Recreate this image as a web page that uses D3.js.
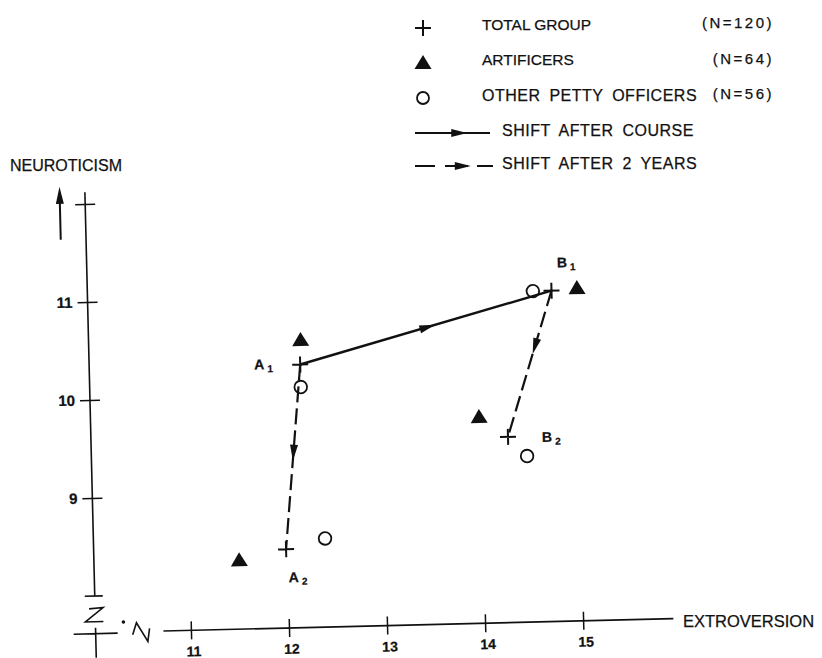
<!DOCTYPE html>
<html>
<head>
<meta charset="utf-8">
<script src="https://cdn.jsdelivr.net/npm/d3@7/dist/d3.min.js"></script>
<style>
  body { margin: 0; background: #fff; }
  svg { display: block; font-family: "Liberation Sans", Arial, sans-serif; }
  text { fill: #111; stroke: #111; stroke-width: 0.25px; }
</style>
</head>
<body>
<script>
// tick values
var xTicks = [11, 12, 13, 14, 15];
var yTicks = [9, 10, 11, 12];
var yTickLabels = ['9', '10', '11', ''];

// legend
var groupNames = ['TOTAL GROUP', 'ARTIFICERS', 'OTHER PETTY OFFICERS'];
var groupN = [120, 64, 56];
var shiftNames = ['SHIFT AFTER COURSE', 'SHIFT AFTER 2 YEARS'];

// points A1, B1, A2, B2 (extroversion, neuroticism)
var pointNames = ['A1', 'B1', 'A2', 'B2'];
var totalX = [12.18, 14.76, 11.99, 14.28];
var totalY = [10.31, 11.00, 8.43, 9.52];
var artificersX = [12.19, 15.02, 13.99, 11.51];
var artificersY = [10.56, 11.02, 9.73, 8.33];
var otherX = [12.18, 14.57, 14.47, 12.39];
var otherY = [10.08, 11.00, 9.32, 8.53];

// shifts of the total group (index pairs into pointNames)
var shiftCourse = [[0, 1]];
var shiftTwoYears = [[0, 2], [1, 3]];

var width = 822, height = 658;
var ink = '#111';

var svg = d3.select('body').append('svg')
    .attr('width', width)
    .attr('height', height);

svg.append('rect').attr('width', width).attr('height', height).attr('fill', '#fff');

// the scanned figure sits slightly askew
var plot = svg.append('g').attr('transform', 'rotate(-1.4 384 410)');

var x = d3.scaleLinear().domain([11, 15]).range([185.6, 577.9]);
var y = d3.scaleLinear().domain([9, 11]).range([490.9, 294.8]);
var xAxisY = 625.6, yAxisX = 90.3;

// x axis
var xAxis = plot.append('g')
    .attr('transform', 'translate(0,' + xAxisY + ')')
    .call(d3.axisBottom(x).tickValues(xTicks).tickSize(9).tickFormat(d3.format('d')));
xAxis.select('.domain').remove();
xAxis.selectAll('.tick line').attr('y1', -9).attr('y2', 9)
    .attr('stroke', ink).attr('stroke-width', 1.5);
xAxis.selectAll('.tick text').attr('y', 16).attr('x', 2)
    .style('font-size', '14px').style('font-weight', 'bold').attr('fill', ink);
xAxis.append('line')
    .attr('x1', x(10.72)).attr('x2', x(15.92))
    .attr('stroke', ink).attr('stroke-width', 1.6);

// y axis
var yAxis = plot.append('g')
    .attr('transform', 'translate(' + yAxisX + ',0)')
    .call(d3.axisLeft(y).tickValues(yTicks).tickSize(10)
      .tickFormat(function (d, i) { return yTickLabels[i]; }));
yAxis.select('.domain').remove();
yAxis.selectAll('.tick line').attr('x1', -10).attr('x2', 10)
    .attr('stroke', ink).attr('stroke-width', 1.5);
yAxis.selectAll('.tick text').attr('x', -15)
    .style('font-size', '15px').style('font-weight', 'bold').attr('fill', ink);
yAxis.append('line')
    .attr('y1', y(12.12)).attr('y2', y(8.0))
    .attr('stroke', ink).attr('stroke-width', 1.6);
yAxis.append('line')
    .attr('x1', -10).attr('x2', 8).attr('y1', y(8.0)).attr('y2', y(8.0))
    .attr('stroke', ink).attr('stroke-width', 1.6);

// axis break marks at the true origin
var brk = plot.append('g')
    .attr('transform', 'translate(' + yAxisX + ',' + (xAxisY + 1) + ')')
    .attr('fill', 'none').attr('stroke', ink).attr('stroke-width', 1.6);
brk.append('path').attr('d', 'M-22,0H22M0,-6V24');
brk.append('path').attr('d', 'M-6,-25L8,-26L-10,-12L8,-12');
brk.append('path').attr('d', 'M37,2L41,-10L52,9L54,-4');
brk.append('circle').attr('cx', 28).attr('cy', -11).attr('r', 1).attr('fill', ink);

// neuroticism arrow
plot.append('line')
    .attr('x1', 65).attr('x2', 65).attr('y1', 232).attr('y2', 190)
    .attr('stroke', ink).attr('stroke-width', 2);
plot.append('path')
    .attr('d', 'M65,179L69,196L61,196Z').attr('fill', ink);

function arrowHead(g, x1, y1, x2, y2, t) {
  var px = x1 + (x2 - x1) * t, py = y1 + (y2 - y1) * t;
  var a = Math.atan2(y2 - y1, x2 - x1) * 180 / Math.PI;
  g.append('path')
    .attr('d', 'M2,0L-14,-4L-14,4Z')
    .attr('fill', ink)
    .attr('transform', 'translate(' + px + ',' + py + ') rotate(' + a + ')');
}

// shift lines
var lines = plot.append('g');
shiftCourse.forEach(function (p) {
  var x1 = x(totalX[p[0]]), y1 = y(totalY[p[0]]), x2 = x(totalX[p[1]]), y2 = y(totalY[p[1]]);
  lines.append('line').attr('x1', x1).attr('y1', y1).attr('x2', x2).attr('y2', y2)
    .attr('stroke', ink).attr('stroke-width', 2.4);
  arrowHead(lines, x1, y1, x2, y2, 0.53);
});
var dashT = [0.51, 0.42];
shiftTwoYears.forEach(function (p, i) {
  var x1 = x(totalX[p[0]]), y1 = y(totalY[p[0]]), x2 = x(totalX[p[1]]), y2 = y(totalY[p[1]]);
  lines.append('line').attr('x1', x1).attr('y1', y1).attr('x2', x2).attr('y2', y2)
    .attr('stroke', ink).attr('stroke-width', 2.2)
    .attr('stroke-dasharray', '16,6');
  arrowHead(lines, x1, y1, x2, y2, dashT[i]);
});

// markers
var crossPath = 'M-8,0H8M0,-8V8';
var triPath = 'M0,-8L8.5,6L-8.5,6Z';

plot.append('g').selectAll('path')
  .data(totalX).enter().append('path')
    .attr('d', crossPath)
    .attr('transform', function (d, i) { return 'translate(' + x(d) + ',' + y(totalY[i]) + ')'; })
    .attr('stroke', ink).attr('stroke-width', 2).attr('fill', 'none');

plot.append('g').selectAll('path')
  .data(artificersX).enter().append('path')
    .attr('d', triPath)
    .attr('transform', function (d, i) { return 'translate(' + x(d) + ',' + y(artificersY[i]) + ')'; })
    .attr('fill', ink);

plot.append('g').selectAll('circle')
  .data(otherX).enter().append('circle')
    .attr('cx', function (d) { return x(d); })
    .attr('cy', function (d, i) { return y(otherY[i]); })
    .attr('r', 6.3)
    .attr('fill', 'none').attr('stroke', ink).attr('stroke-width', 1.8);

// point labels (letter + subscript)
var labelOffset = { A1: [-46, 4], B1: [6, -23], A2: [2, 33], B2: [34, 6] };
pointNames.forEach(function (name, i) {
  var off = labelOffset[name];
  var t = plot.append('text')
    .attr('x', x(totalX[i]) + off[0])
    .attr('y', y(totalY[i]) + off[1])
    .style('font-size', '14px').style('font-weight', 'bold');
  t.append('tspan').text(name.charAt(0));
  t.append('tspan').attr('dx', 3).attr('dy', 3).style('font-size', '10px').text(name.charAt(1));
});

// axis titles
svg.append('text').attr('x', 10).attr('y', 171)
  .style('font-size', '16px').text('NEUROTICISM');
svg.append('text').attr('x', 683).attr('y', 627)
  .style('font-size', '16.5px').text('EXTROVERSION');

// legend
var legend = svg.append('g');
var rowY = [28, 63, 98];
var textDy = [2, 2, 3];
var nDy = [0, 1, 1];
groupNames.forEach(function (name, i) {
  var cy = rowY[i];
  if (i === 0) {
    legend.append('path').attr('d', crossPath)
      .attr('transform', 'translate(423,' + cy + ')')
      .attr('stroke', ink).attr('stroke-width', 2);
  } else if (i === 1) {
    legend.append('path').attr('d', triPath)
      .attr('transform', 'translate(423,' + cy + ')').attr('fill', ink);
  } else {
    legend.append('circle').attr('cx', 423).attr('cy', cy).attr('r', 6)
      .attr('fill', 'none').attr('stroke', ink).attr('stroke-width', 1.8);
  }
  var t = legend.append('text').attr('x', 482).attr('y', cy + textDy[i]).text(name);
  if (i < 2) t.style('font-size', '15.5px');
  else t.style('font-size', '16px').style('letter-spacing', '0.5px').style('word-spacing', '4px');
  legend.append('text').attr('x', 774).attr('y', cy + nDy[i])
    .attr('text-anchor', 'end')
    .style('font-size', '15px').style('letter-spacing', '2.5px')
    .text('(N=' + groupN[i] + ')');
});

var shiftY = [133, 166];
legend.append('line').attr('x1', 415).attr('x2', 490).attr('y1', shiftY[0]).attr('y2', shiftY[0])
  .attr('stroke', ink).attr('stroke-width', 2.2);
arrowHead(legend, 415, shiftY[0], 490, shiftY[0], 0.67);
legend.append('line').attr('x1', 415).attr('x2', 493).attr('y1', shiftY[1]).attr('y2', shiftY[1])
  .attr('stroke', ink).attr('stroke-width', 2.2).attr('stroke-dasharray', '20,10,23,9');
arrowHead(legend, 415, shiftY[1], 493, shiftY[1], 0.69);

shiftNames.forEach(function (name, i) {
  legend.append('text').attr('x', 502).attr('y', shiftY[i] + 3)
    .style('font-size', '16px').style('letter-spacing', '0.5px').style('word-spacing', '4px')
    .text(name);
});
</script>
</body>
</html>
